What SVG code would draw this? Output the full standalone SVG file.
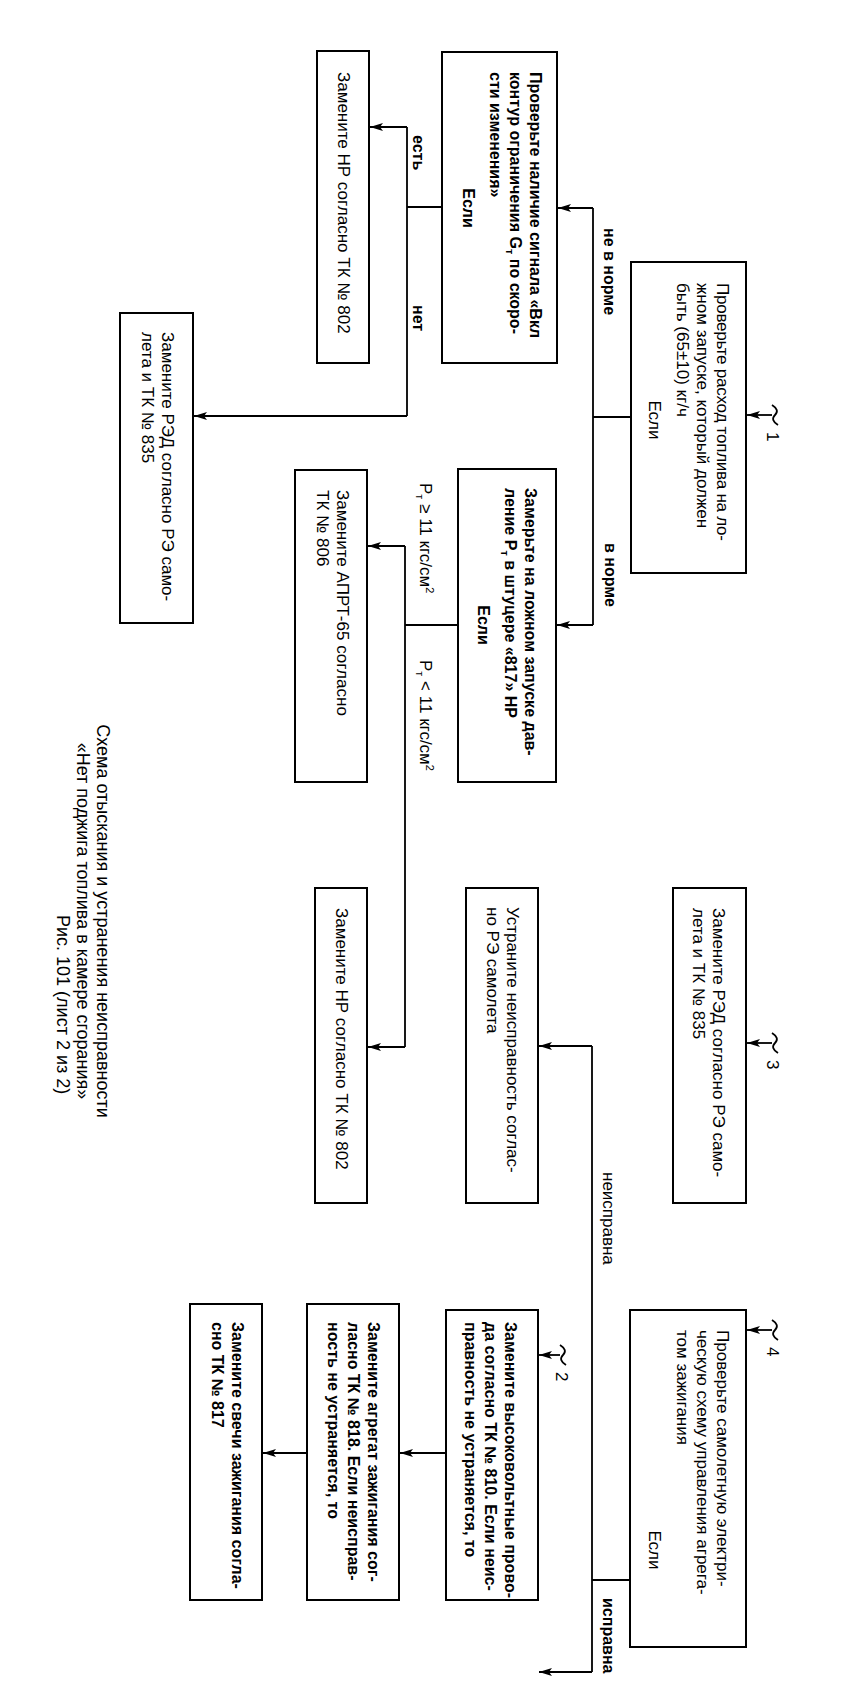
<svg xmlns="http://www.w3.org/2000/svg" width="849" height="1693" viewBox="0 0 849 1693">
<style>
.box{fill:#fff;stroke:#000;stroke-width:2}
.t{font-family:"Liberation Sans",Arial,sans-serif;font-size:17px;fill:#000}
.b{font-weight:bold;font-size:16px}
.c{fill:none;stroke:#000;stroke-width:1.8}
.a{fill:none;stroke:#000;stroke-width:1.8;marker-end:url(#ah)}
.m{text-anchor:middle}
.s{font-size:11px}
</style>
<defs>
<marker id="ah" markerUnits="userSpaceOnUse" markerWidth="14" markerHeight="8" refX="13" refY="4" orient="auto">
<path d="M0,0 L13,4 L0,8 L3,4 z" fill="#000"/>
</marker>
</defs>
<rect width="849" height="1693" fill="#fff"/>
<g id="connectors">
<path class="c" d="M631,417 H593 M593,208 V625"/>
<path class="a" d="M593,208 H558"/>
<path class="a" d="M593,625 H557"/>
<path class="c" d="M442,207 H407 M407,127 V416"/>
<path class="a" d="M407,127 H370"/>
<path class="a" d="M407,416 H194"/>
<path class="c" d="M458,625 H405 M405,546 V1047"/>
<path class="a" d="M405,546 H368"/>
<path class="a" d="M405,1047 H368"/>
<path class="c" d="M630,1580 H592 M592,1046 V1672"/>
<path class="a" d="M592,1046 H539"/>
<path class="a" d="M592,1672 H539"/>
<path class="a" d="M446,1453 H400"/>
<path class="a" d="M307,1453 H263"/>
<path class="a" d="M772,415 H747"/>
<path class="c" d="M772,405 q8,5 3,10 q-5,5 3,10"/>
<path class="a" d="M772,1043 H747"/>
<path class="c" d="M772,1033 q8,5 3,10 q-5,5 3,10"/>
<path class="a" d="M560,1355 H539"/>
<path class="c" d="M560,1345 q8,5 3,10 q-5,5 3,10"/>
<path class="a" d="M772,1330 H747"/>
<path class="c" d="M772,1320 q8,5 3,10 q-5,5 3,10"/>
</g>
<g id="labels">
<text class="t b" transform="translate(604 228) rotate(90)">не в норме</text>
<text class="t b" transform="translate(605 543) rotate(90)">в норме</text>
<text class="t b" transform="translate(413 135) rotate(90)">есть</text>
<text class="t b" transform="translate(413 305) rotate(90)">нет</text>
<text class="t" transform="translate(420 483) rotate(90)">P<tspan class="s" dy="4">т</tspan><tspan dy="-4"> ≥ 11 кгс/см</tspan><tspan class="s" dy="-6">2</tspan></text>
<text class="t" transform="translate(420 660) rotate(90)">P<tspan class="s" dy="4">т</tspan><tspan dy="-4"> &lt; 11 кгс/см</tspan><tspan class="s" dy="-6">2</tspan></text>
<text class="t" transform="translate(603 1172) rotate(90)">неисправна</text>
<text class="t b" transform="translate(603 1598) rotate(90)">исправна</text>
<text class="t" transform="translate(767 432) rotate(90)">1</text>
<text class="t" transform="translate(767 1060) rotate(90)">3</text>
<text class="t" transform="translate(556 1372) rotate(90)">2</text>
<text class="t" transform="translate(767 1347) rotate(90)">4</text>
</g>
<g id="n1">
<rect class="box" x="631" y="262" width="115" height="311"/>
<text class="t" transform="translate(717 283) rotate(90)" textLength="258" lengthAdjust="spacing">Проверьте расход топлива на ло-</text>
<text class="t" transform="translate(697 283) rotate(90)">жном запуске, который должен<tspan x="0" dy="20">быть (65±10) кг/ч</tspan><tspan x="137" dy="28" class="m">Если</tspan></text>
</g>
<g id="n2">
<rect class="box" x="442" y="52" width="115" height="311"/>
<text class="t b" transform="translate(530 72) rotate(90)">Проверьте наличие сигнала «Вкл<tspan x="0" dy="20">контур ограничения G</tspan><tspan class="s" dy="4">т</tspan><tspan dy="-4"> по скоро-</tspan><tspan x="0" dy="20">сти изменения»</tspan><tspan x="136" dy="27" class="m">Если</tspan></text>
</g>
<g id="n3">
<rect class="box" x="317" y="51" width="52" height="312"/>
<text class="t" transform="translate(338 72) rotate(90)">Замените НР согласно ТК № 802</text>
</g>
<g id="n4">
<rect class="box" x="120" y="313" width="73" height="310"/>
<text class="t" transform="translate(162 332) rotate(90)">Замените РЭД согласно РЭ само-<tspan x="0" dy="20">лета и ТК № 835</tspan></text>
</g>
<g id="n5">
<rect class="box" x="458" y="469" width="98" height="313"/>
<text class="t b" transform="translate(525 488) rotate(90)">Замерьте на ложном запуске дав-<tspan x="0" dy="20">ление P</tspan><tspan class="s" dy="4">т</tspan><tspan dy="-4"> в штуцере «817» НР</tspan><tspan x="137" dy="27" class="m">Если</tspan></text>
</g>
<g id="n6">
<rect class="box" x="295" y="470" width="72" height="312"/>
<text class="t" transform="translate(337 490) rotate(90)">Замените АПРТ-65 согласно<tspan x="0" dy="20">ТК № 806</tspan></text>
</g>
<g id="n7">
<rect class="box" x="315" y="888" width="52" height="315"/>
<text class="t" transform="translate(336 908) rotate(90)">Замените НР согласно ТК № 802</text>
</g>
<g id="n8">
<rect class="box" x="466" y="888" width="72" height="315"/>
<text class="t" transform="translate(507 907) rotate(90)">Устраните неисправность соглас-<tspan x="0" dy="20">но РЭ самолета</tspan></text>
</g>
<g id="n9">
<rect class="box" x="673" y="888" width="73" height="315"/>
<text class="t" transform="translate(713 908) rotate(90)">Замените РЭД согласно РЭ само-<tspan x="0" dy="20">лета и ТК № 835</tspan></text>
</g>
<g id="n10">
<rect class="box" x="630" y="1310" width="116" height="337"/>
<text class="t" transform="translate(717 1330) rotate(90)">Проверьте самолетную электри-<tspan x="0" dy="20">ческую схему управления агрега-</tspan><tspan x="0" dy="20">том зажигания</tspan><tspan x="220" dy="28" class="m">Если</tspan></text>
</g>
<g id="n11">
<rect class="box" x="446" y="1310" width="92" height="290"/>
<text class="t b" transform="translate(505 1322) rotate(90)">Замените высоковольтные прово-<tspan x="0" dy="20">да согласно ТК № 810. Если неис-</tspan><tspan x="0" dy="20">правность не устраняется, то</tspan></text>
</g>
<g id="n12">
<rect class="box" x="307" y="1304" width="92" height="296"/>
<text class="t b" transform="translate(368 1322) rotate(90)">Замените агрегат зажигания сог-<tspan x="0" dy="20">ласно ТК № 818. Если неисправ-</tspan><tspan x="0" dy="20">ность не устраняется, то</tspan></text>
</g>
<g id="n13">
<rect class="box" x="190" y="1304" width="72" height="296"/>
<text class="t b" transform="translate(232 1322) rotate(90)">Замените свечи зажигания согла-<tspan x="0" dy="20">сно ТК № 817</tspan></text>
</g>
<g id="title">
<text class="t m" style="font-size:18px" transform="translate(97 921) rotate(90)">Схема отыскания и устранения неисправности<tspan x="0" dy="20">«Нет поджига топлива в камере сгорания»</tspan></text>
<text class="t" style="font-size:18px" transform="translate(57 915) rotate(90)">Рис. 101 (лист 2 из 2)</text>
</g>
</svg>
